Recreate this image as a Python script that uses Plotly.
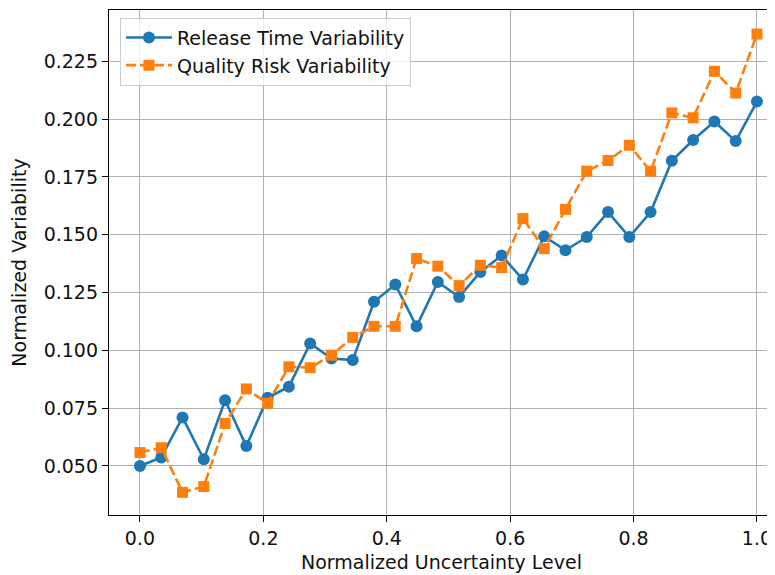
import plotly.graph_objects as go

x_vals = [i / 29 for i in range(30)]
release_time = [0.050, 0.0537, 0.071, 0.0529, 0.0784, 0.0586, 0.0795, 0.0843, 0.103, 0.0965,
                0.0958, 0.121, 0.1285, 0.1104, 0.1296, 0.1231, 0.1339, 0.141, 0.1306, 0.1493,
                0.1433, 0.149, 0.1598, 0.149, 0.1598, 0.182, 0.191, 0.199, 0.1905, 0.2076]
quality_risk = [0.0558, 0.0579, 0.0386, 0.0411, 0.0684, 0.0833, 0.0771, 0.0929, 0.0925, 0.0979,
                0.1056, 0.1104, 0.1104, 0.1397, 0.1364, 0.1280, 0.1368, 0.1358, 0.157, 0.1440,
                0.161, 0.1775, 0.1821, 0.1887, 0.1775, 0.2027, 0.2006, 0.2207, 0.2113, 0.2368]
x_ticks = [0.0, 0.2, 0.4, 0.6, 0.8, 1.0]
y_ticks = [0.050, 0.075, 0.100, 0.125, 0.150, 0.175, 0.200, 0.225]

fig = go.Figure()
fig.add_trace(go.Scatter(x=x_vals, y=release_time, mode="lines+markers",
                         name="Release Time Variability",
                         line=dict(color="#1f77b4", width=2.6),
                         marker=dict(symbol="circle", size=12, color="#1f77b4")))
fig.add_trace(go.Scatter(x=x_vals, y=quality_risk, mode="lines+markers",
                         name="Quality Risk Variability",
                         line=dict(color="#ff7f0e", width=2.6, dash="10px,4px"),
                         marker=dict(symbol="square", size=11, color="#ff7f0e")))

axis_common = dict(showline=True, linecolor="black", linewidth=1.3, mirror=True,
                   ticks="outside", ticklen=6, tickwidth=1.3, tickcolor="black",
                   showgrid=True, gridcolor="#b0b0b0", gridwidth=1.3, zeroline=False,
                   automargin=False,
                   tickfont=dict(size=19, color="#111"))

fig.update_layout(
    width=767, height=567,
    margin=dict(l=101, r=1, t=2, b=60),
    plot_bgcolor="white", paper_bgcolor="white",
    font=dict(family="DejaVu Sans", size=19, color="#111"),
    xaxis=dict(title=dict(text="Normalized Uncertainty Level", font=dict(size=19), standoff=7),
               range=[-0.0502, 1.0276], tickvals=x_ticks, ticktext=[f"{v:.1f}" for v in x_ticks],
               **axis_common),
    yaxis=dict(title=dict(text="Normalized Variability", font=dict(size=19), standoff=11),
               range=[0.0288, 0.2472], tickvals=y_ticks, ticktext=[f"{v:.3f}" for v in y_ticks],
               **axis_common),
    legend=dict(x=0.0165, y=0.985, xanchor="left", yanchor="top",
                bgcolor="rgba(255,255,255,0.8)", bordercolor="#cccccc", borderwidth=1,
                font=dict(size=19), itemwidth=46),
    showlegend=True,
)

fig.write_html("out.html")
